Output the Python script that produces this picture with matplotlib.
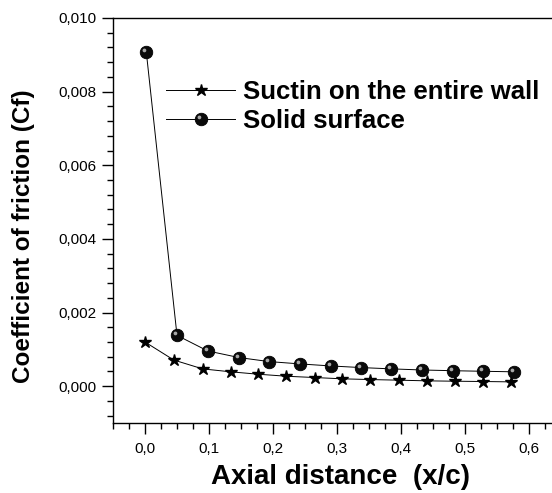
import matplotlib
matplotlib.use("Agg")
import matplotlib.pyplot as plt
from matplotlib.path import Path
from matplotlib.ticker import MultipleLocator, FuncFormatter
from matplotlib.legend_handler import HandlerTuple

plt.rcParams['font.family'] = ['Liberation Sans', 'DejaVu Sans']

# skin friction along the chord
x_suction = [0.0, 0.045, 0.09, 0.134, 0.177, 0.221, 0.265, 0.308, 0.352, 0.397, 0.44, 0.484, 0.528, 0.572]
cf_suction = [0.00120, 0.00071, 0.00047, 0.00039, 0.000325, 0.00027, 0.000235, 0.00020,
              0.00018, 0.000163, 0.000145, 0.000135, 0.000127, 0.000117]

x_solid = [0.002, 0.05, 0.098, 0.147, 0.194, 0.242, 0.29, 0.337, 0.385, 0.433, 0.482, 0.528, 0.577]
cf_solid = [0.00908, 0.00138, 0.000957, 0.000777, 0.000668, 0.000605, 0.00055, 0.000506,
            0.00047, 0.00044, 0.00042, 0.000405, 0.00039]

label_suction = 'Suctin on the entire wall'
label_solid = 'Solid surface'

# little glint on the upper left of the ball markers
glint = Path.make_compound_path(
    Path([[-1, -1], [1, 1]], [Path.MOVETO, Path.MOVETO]),
    Path.circle((-0.33, 0.33), 0.3),
)

fig = plt.figure(figsize=(5.52, 4.93), dpi=100)
ax = fig.add_axes([113 / 552, 70 / 493, 448 / 552, 405 / 493])

star_line, = ax.plot(x_suction, cf_suction, color='black', lw=0.7, marker='*',
                     markersize=9, markerfacecolor='black', markeredgecolor='black')
ball_line, = ax.plot(x_solid, cf_solid, color='black', lw=0.7, marker='o',
                     markersize=9, markerfacecolor='#0a0a0a', markeredgecolor='#000000',
                     markeredgewidth=0.6)
ball_glint, = ax.plot(x_solid, cf_solid, ls='none', marker=glint, markersize=9,
                      markerfacecolor='#a8a8a8', markeredgecolor='none')

ax.set_xlim(-0.05, 0.65)
ax.set_ylim(-0.001, 0.010)

ax.xaxis.set_major_locator(MultipleLocator(0.1))
ax.xaxis.set_minor_locator(MultipleLocator(0.025))
ax.yaxis.set_major_locator(MultipleLocator(0.002))
ax.yaxis.set_minor_locator(MultipleLocator(0.0004))

ax.xaxis.set_major_formatter(FuncFormatter(lambda v, p: f'{v:.1f}'.replace('.', ',').replace('-0,0', '0,0')))
ax.yaxis.set_major_formatter(FuncFormatter(lambda v, p: f'{v:.3f}'.replace('.', ',').replace('-0,000', '0,000')))

ax.tick_params(which='major', direction='out', length=8, width=1.0, labelsize=11, pad=4)
ax.tick_params(which='minor', direction='out', length=4, width=1.0)
ax.tick_params(axis='x', which='major', pad=6)

ax.spines['right'].set_visible(False)
for s in ('left', 'bottom', 'top'):
    ax.spines[s].set_linewidth(1.0)

ax.set_xlabel('Axial distance  (x/c)', fontsize=20, fontweight='bold', va='center')
ax.set_ylabel('Coefficient of friction (Cf)', fontsize=17.5, fontweight='bold', va='center')
ax.xaxis.set_label_coords(0.507, -0.133)
ax.yaxis.set_label_coords(-0.199, 0.462)

ax.legend([star_line, (ball_line, ball_glint)], [label_suction, label_solid],
          handler_map={tuple: HandlerTuple(ndivide=1)},
          loc='upper left', bbox_to_anchor=(166 / 552, 1 - 80 / 493),
          bbox_transform=fig.transFigure, frameon=False, borderpad=0, borderaxespad=0,
          handlelength=2.7, handletextpad=0.3, labelspacing=0.2,
          prop={'size': 18.5, 'weight': 'bold'})

fig.savefig('out.png', dpi=100)
